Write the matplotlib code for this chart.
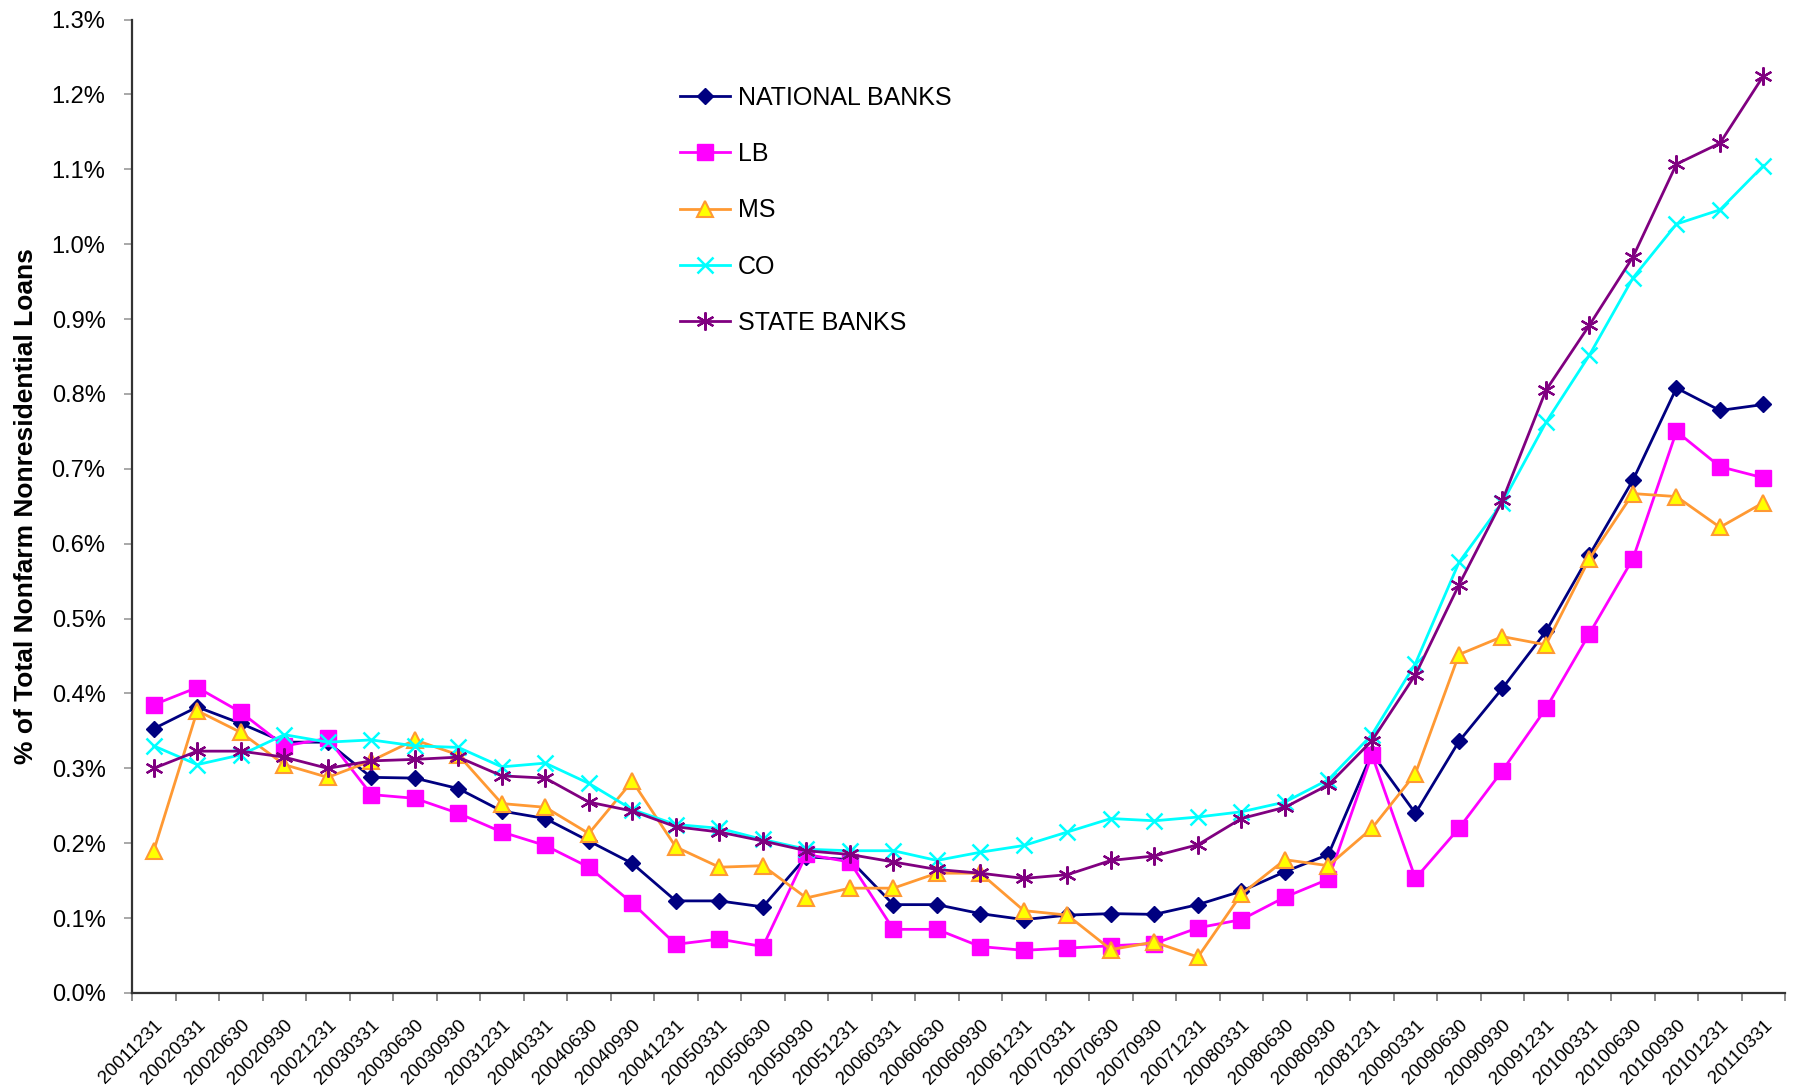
import matplotlib
matplotlib.use("Agg")
import matplotlib.pyplot as plt
from matplotlib.ticker import FuncFormatter, MultipleLocator
import numpy as np

plt.rcParams['font.family'] = ['Liberation Sans', 'DejaVu Sans']

quarters = ["20011231", "20020331", "20020630", "20020930", "20021231", "20030331",
            "20030630", "20030930", "20031231", "20040331", "20040630", "20040930",
            "20041231", "20050331", "20050630", "20050930", "20051231", "20060331",
            "20060630", "20060930", "20061231", "20070331", "20070630", "20070930",
            "20071231", "20080331", "20080630", "20080930", "20081231", "20090331",
            "20090630", "20090930", "20091231", "20100331", "20100630", "20100930",
            "20101231", "20110331"]

national_banks = [0.353, 0.382, 0.360, 0.335, 0.335, 0.288, 0.287, 0.273, 0.243, 0.233,
                  0.203, 0.173, 0.123, 0.123, 0.115, 0.182, 0.178, 0.118, 0.118, 0.106,
                  0.098, 0.104, 0.106, 0.105, 0.118, 0.136, 0.162, 0.185, 0.320, 0.240,
                  0.336, 0.407, 0.483, 0.585, 0.685, 0.808, 0.778, 0.786]
lb = [0.385, 0.408, 0.375, 0.330, 0.340, 0.265, 0.260, 0.240, 0.215, 0.197,
      0.168, 0.120, 0.065, 0.072, 0.062, 0.185, 0.175, 0.085, 0.085, 0.062,
      0.057, 0.060, 0.063, 0.066, 0.087, 0.098, 0.128, 0.152, 0.318, 0.153,
      0.220, 0.297, 0.380, 0.480, 0.580, 0.750, 0.703, 0.688]
ms = [0.190, 0.377, 0.348, 0.305, 0.288, 0.310, 0.338, 0.318, 0.253, 0.248,
      0.213, 0.283, 0.195, 0.168, 0.170, 0.127, 0.140, 0.140, 0.160, 0.160,
      0.110, 0.104, 0.058, 0.068, 0.048, 0.132, 0.178, 0.170, 0.220, 0.293,
      0.452, 0.476, 0.465, 0.580, 0.667, 0.663, 0.622, 0.655]
co = [0.330, 0.305, 0.318, 0.345, 0.335, 0.338, 0.330, 0.328, 0.302, 0.307,
      0.280, 0.245, 0.225, 0.220, 0.205, 0.192, 0.190, 0.190, 0.177, 0.188,
      0.197, 0.215, 0.233, 0.230, 0.235, 0.242, 0.255, 0.285, 0.345, 0.440,
      0.575, 0.655, 0.762, 0.852, 0.955, 1.027, 1.046, 1.105]
state_banks = [0.300, 0.323, 0.323, 0.315, 0.300, 0.310, 0.312, 0.315, 0.290, 0.287,
               0.255, 0.243, 0.222, 0.215, 0.203, 0.190, 0.185, 0.175, 0.165, 0.160,
               0.153, 0.158, 0.177, 0.183, 0.198, 0.233, 0.248, 0.278, 0.337, 0.425,
               0.545, 0.658, 0.805, 0.892, 0.983, 1.107, 1.135, 1.225]

fig = plt.figure(figsize=(17.96, 10.90), dpi=100)
ax = fig.add_axes([0.0735, 0.089, 0.9205, 0.893])

x = np.arange(len(quarters))
ax.plot(x, national_banks, color='#000080', lw=2, marker='D', ms=8.5,
        mfc='#000080', mec='#000080', label='NATIONAL BANKS')
ax.plot(x, lb, color='#FF00FF', lw=2, marker='s', ms=11.5,
        mfc='#FF00FF', mec='#FF00FF', label='LB')
ax.plot(x, ms, color='#FF9933', lw=2, marker='^', ms=11,
        mfc='#FFFF00', mec='#FF9933', mew=1.5, label='MS')
ax.plot(x, co, color='#00FFFF', lw=2, marker='x', ms=11, mew=1.8,
        mec='#00FFFF', label='CO')
ax.plot(x, state_banks, color='#800080', lw=2, marker=(6, 2, 0), ms=13, mew=1.6,
        mec='#800080', label='STATE BANKS')

ax.set_xlim(-0.5, len(quarters) - 0.5)
ax.set_ylim(0, 1.3)
ax.yaxis.set_major_locator(MultipleLocator(0.1))
ax.yaxis.set_major_formatter(FuncFormatter(lambda v, p: f"{v:.1f}%"))

ax.set_xticks(x)
ax.set_xticklabels(quarters, rotation=45, ha='right', va='top', rotation_mode='anchor',
                   fontsize=13.5)
ax.set_xticks(np.arange(-0.5, len(quarters)), minor=True)
ax.tick_params(axis='x', which='major', length=0, pad=17)
ax.tick_params(axis='x', which='minor', length=6, color='#777777', width=1.2)
ax.tick_params(axis='y', length=6, color='#999999', width=1.2, labelsize=17, pad=13)

for s in ['top', 'right']:
    ax.spines[s].set_visible(False)
for s in ['left', 'bottom']:
    ax.spines[s].set_color('#333333')
    ax.spines[s].set_linewidth(1.6)

ax.set_ylabel('% of Total Nonfarm Nonresidential Loans', fontsize=19,
              fontweight='bold', labelpad=10)

ax.legend(loc='upper left', bbox_to_anchor=(0.318, 0.955), frameon=False,
          fontsize=18, handlelength=2.0, labelspacing=1.29, handletextpad=0.3)

fig.savefig('out.png', dpi=100)
